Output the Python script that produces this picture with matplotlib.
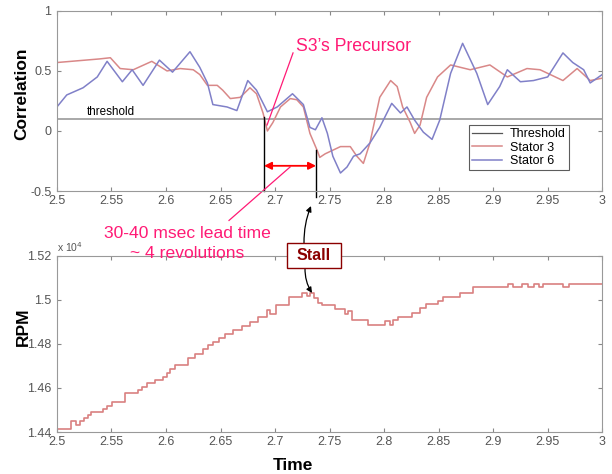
import numpy as np
import matplotlib.pyplot as plt
from matplotlib.lines import Line2D
from matplotlib.patches import Rectangle

plt.rcParams['font.family'] = ['Liberation Sans', 'DejaVu Sans']

# correlation traces (time, value)
t_s3 = [2.500, 2.539, 2.549, 2.558, 2.570, 2.587, 2.601, 2.613, 2.625, 2.631,
        2.638, 2.647, 2.652, 2.659, 2.668, 2.677, 2.683, 2.689, 2.693, 2.698,
        2.705, 2.714, 2.720, 2.726, 2.732, 2.739, 2.741, 2.746, 2.753, 2.760,
        2.769, 2.775, 2.781, 2.787, 2.796, 2.806, 2.812, 2.817, 2.824, 2.828,
        2.833, 2.839, 2.849, 2.861, 2.879, 2.897, 2.913, 2.931, 2.943, 2.964,
        2.977, 2.989, 3.000]
c_s3 = [0.57, 0.60, 0.61, 0.52, 0.51, 0.58, 0.50, 0.52, 0.51, 0.47,
        0.38, 0.38, 0.34, 0.27, 0.28, 0.36, 0.31, 0.15, 0.00, 0.07,
        0.20, 0.27, 0.26, 0.20, -0.02, -0.17, -0.22, -0.19, -0.16, -0.13,
        -0.13, -0.21, -0.27, -0.10, 0.28, 0.42, 0.37, 0.20, 0.07, -0.02,
        0.05, 0.28, 0.45, 0.55, 0.51, 0.55, 0.45, 0.52, 0.51, 0.42,
        0.52, 0.42, 0.44]

t_s6 = [2.500, 2.509, 2.524, 2.537, 2.546, 2.560, 2.569, 2.579, 2.594, 2.606,
        2.622, 2.631, 2.638, 2.643, 2.656, 2.665, 2.675, 2.683, 2.693, 2.702,
        2.716, 2.726, 2.732, 2.737, 2.743, 2.748, 2.753, 2.760, 2.766, 2.772,
        2.778, 2.787, 2.796, 2.807, 2.815, 2.821, 2.828, 2.836, 2.844, 2.851,
        2.861, 2.872, 2.885, 2.895, 2.906, 2.913, 2.925, 2.937, 2.950, 2.964,
        2.973, 2.983, 2.989, 3.000]
c_s6 = [0.20, 0.30, 0.36, 0.45, 0.58, 0.41, 0.51, 0.38, 0.59, 0.49,
        0.66, 0.53, 0.40, 0.22, 0.20, 0.17, 0.42, 0.34, 0.16, 0.20,
        0.31, 0.22, 0.03, 0.01, 0.11, -0.02, -0.21, -0.35, -0.30, -0.21,
        -0.19, -0.10, 0.03, 0.23, 0.15, 0.20, 0.09, -0.01, -0.07, 0.09,
        0.48, 0.73, 0.48, 0.22, 0.37, 0.51, 0.41, 0.42, 0.45, 0.65,
        0.57, 0.51, 0.40, 0.47]

threshold = 0.1

# rpm steps (start time, level in units of 1e4 rpm)
t_rpm = [2.5000, 2.5128, 2.5172, 2.5211, 2.5250, 2.5287, 2.5312, 2.5425, 2.5456, 2.5507,
         2.5624, 2.5746, 2.5783, 2.5823, 2.5899, 2.5975, 2.6006, 2.6037, 2.6083, 2.6205,
         2.6266, 2.6342, 2.6388, 2.6434, 2.6489, 2.6541, 2.6617, 2.6694, 2.6771, 2.6847,
         2.6929, 2.6954, 2.7009, 2.7131, 2.7245, 2.7291, 2.7321, 2.7358, 2.7397, 2.7428,
         2.7550, 2.7642, 2.7670, 2.7706, 2.7856, 2.8009, 2.8055, 2.8085, 2.8131, 2.8254,
         2.8330, 2.8385, 2.8498, 2.8544, 2.8697, 2.8819, 2.9140, 2.9180, 2.9263, 2.9324,
         2.9370, 2.9416, 2.9456, 2.9645, 2.9700, 3.0000]
rpm = [1.4412, 1.4450, 1.4432, 1.4450, 1.4462, 1.4477, 1.4492, 1.4503, 1.4518, 1.4538,
       1.4576, 1.4591, 1.4606, 1.4624, 1.4636, 1.4649, 1.4667, 1.4685, 1.4705, 1.4735,
       1.4755, 1.4776, 1.4795, 1.4810, 1.4826, 1.4845, 1.4864, 1.4882, 1.4901, 1.4921,
       1.4955, 1.4935, 1.4977, 1.5015, 1.5033, 1.5018, 1.5033, 1.5008, 1.4988, 1.4977,
       1.4958, 1.4938, 1.4948, 1.4909, 1.4886, 1.4906, 1.4886, 1.4909, 1.4924, 1.4942,
       1.4962, 1.4980, 1.4997, 1.5015, 1.5033, 1.5058, 1.5073, 1.5058, 1.5073, 1.5058,
       1.5073, 1.5058, 1.5073, 1.5058, 1.5073, 1.5073]

xticks = [2.5, 2.55, 2.6, 2.65, 2.7, 2.75, 2.8, 2.85, 2.9, 2.95, 3]
xlabels = ['2.5', '2.55', '2.6', '2.65', '2.7', '2.75', '2.8', '2.85', '2.9', '2.95', '3']

pink = '#FF1A75'
tickc = '#555555'

fig = plt.figure(figsize=(6.12, 4.74), dpi=100)
ax1 = fig.add_axes([0.093, 0.597, 0.891, 0.380])
ax2 = fig.add_axes([0.093, 0.0886, 0.891, 0.3714])

for ax in (ax1, ax2):
    ax.set_xlim(2.5, 3)
    ax.set_xticks(xticks)
    ax.set_xticklabels(xlabels)
    ax.tick_params(direction='in', top=True, right=True, length=3,
                   color='#888888', labelcolor=tickc, labelsize=9)
    ax.tick_params(axis='x', pad=3)
    ax.tick_params(axis='y', pad=4)
    for s in ax.spines.values():
        s.set_color('#999999')

# correlation panel
ax1.plot([2.5, 3], [threshold, threshold], color='#999999', lw=1.2, label='Threshold')
ax1.plot(t_s3, c_s3, color='#D98888', lw=1.1, label='Stator 3')
ax1.plot(t_s6, c_s6, color='#8080C8', lw=1.1, label='Stator 6')
ax1.set_ylim(-0.5, 1)
ax1.set_yticks([-0.5, 0, 0.5, 1])
ax1.set_yticklabels(['-0.5', '0', '0.5', '1'])
ax1.set_ylabel('Correlation', fontsize=12.5, fontweight='bold')
ax1.yaxis.set_label_coords(-0.050, 0.54)
ax1.text(2.5275, 0.112, 'threshold', fontsize=8.4, va='bottom', ha='left')

hs = [Line2D([], [], color='#555555', lw=0.9),
      Line2D([], [], color='#D98888', lw=1.1),
      Line2D([], [], color='#8080C8', lw=1.1)]
leg = ax1.legend(hs, ['Threshold', 'Stator 3', 'Stator 6'], loc='upper left',
                 bbox_to_anchor=(469 / 612, 1 - 125 / 474), bbox_transform=fig.transFigure,
                 fontsize=9, frameon=True, fancybox=False, handlelength=2.4,
                 borderpad=0.25, labelspacing=0.12, handletextpad=0.6, borderaxespad=0)
leg.get_frame().set_edgecolor('#333333')
leg.get_frame().set_linewidth(0.8)

# precursor markers
ax1.plot([2.6899, 2.6899], [0.117, -0.5], color='black', lw=1, clip_on=False)
ax1.plot([2.7376, 2.7376], [-0.16, -0.55], color='black', lw=1, clip_on=False)
ax1.annotate('', xy=(2.6899, -0.29), xytext=(2.7376, -0.29),
             arrowprops=dict(arrowstyle='<|-|>', color='red', lw=1.3,
                             mutation_scale=11, shrinkA=0, shrinkB=0))
ax1.plot([2.7165, 2.6927], [0.65, 0.05], color=pink, lw=0.9, clip_on=False)
ax1.text(2.7195, 0.70, 'S3\u2019s Precursor', color=pink, fontsize=12.7, va='center', ha='left')
ax1.plot([2.7138, 2.6578], [-0.30, -0.745], color=pink, lw=0.9, clip_on=False)

fig.text(187 / 612, 1 - 233 / 474, '30-40 msec lead time', color=pink, fontsize=12.6,
         ha='center', va='center')
fig.text(187 / 612, 1 - 253 / 474, '~ 4 revolutions', color=pink, fontsize=12.6,
         ha='center', va='center')

# rpm panel
ax2.step(t_rpm, rpm, where='post', color='#D98080', lw=1.2)
ax2.set_ylim(1.44, 1.52)
ax2.set_yticks([1.44, 1.46, 1.48, 1.5, 1.52])
ax2.set_yticklabels(['1.44', '1.46', '1.48', '1.5', '1.52'])
ax2.set_ylabel('RPM', fontsize=12.5, fontweight='bold')
ax2.yaxis.set_label_coords(-0.047, 0.60)
ax2.set_xlabel('Time', fontsize=12.5, fontweight='bold')
ax2.xaxis.set_label_coords(0.433, -0.145)
ax2.text(2.5, 1.5208, 'x 10$^4$', fontsize=7.5, color=tickc, va='bottom', ha='left')

# stall callout
fig.add_artist(Rectangle((287 / 612, 1 - 268 / 474), 54 / 612, 25 / 474,
                         transform=fig.transFigure, fc='white', ec='#8B0000', lw=1))
fig.text(314 / 612, 1 - 256 / 474, 'Stall', color='#8B0000', fontsize=11.5,
         fontweight='bold', ha='center', va='center')
ax2.annotate('', xy=(311 / 612, 1 - 206 / 474), xycoords='figure fraction',
             xytext=(304 / 612, 1 - 243 / 474), textcoords='figure fraction',
             arrowprops=dict(arrowstyle='-|>', color='black', lw=0.9, mutation_scale=8,
                             shrinkA=0, shrinkB=0, connectionstyle='arc3,rad=-0.1'),
             annotation_clip=False)
ax2.annotate('', xy=(312 / 612, 1 - 293 / 474), xycoords='figure fraction',
             xytext=(305 / 612, 1 - 268 / 474), textcoords='figure fraction',
             arrowprops=dict(arrowstyle='-|>', color='black', lw=0.9, mutation_scale=8,
                             shrinkA=0, shrinkB=0, connectionstyle='arc3,rad=0.15'),
             annotation_clip=False)

fig.savefig('out.png', dpi=100)
